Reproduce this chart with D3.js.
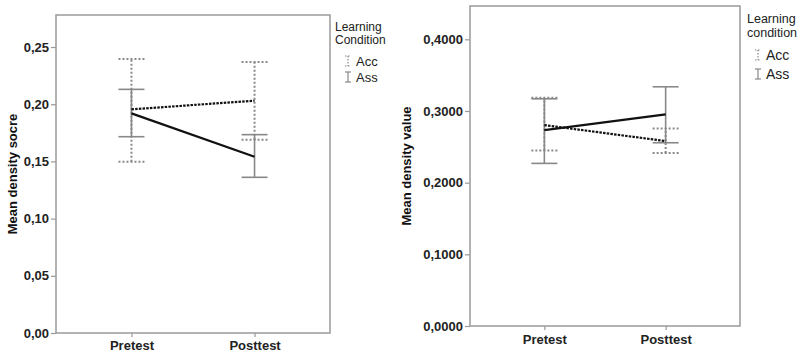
<!DOCTYPE html>
<html>
<head>
<meta charset="utf-8">
<script src="https://cdn.jsdelivr.net/npm/d3@7"></script>
<style>
  html, body { margin: 0; padding: 0; background: #fff; }
  svg { display: block; font-family: "Liberation Sans", Arial, sans-serif; }
</style>
</head>
<body>
<svg id="chart" width="801" height="355"></svg>
<script>
// Time points on the x axis
const phases = ["Pretest", "Posttest"];
const groups = ["Acc", "Ass"];

// Panel A: mean density score, with error bar bounds
const scoreAccMean = [0.1955, 0.2031];
const scoreAccLow  = [0.1497, 0.1690];
const scoreAccHigh = [0.2395, 0.2369];
const scoreAssMean = [0.1920, 0.1541];
const scoreAssLow  = [0.1716, 0.1361];
const scoreAssHigh = [0.2130, 0.1734];
const scoreTicks = [0, 0.05, 0.10, 0.15, 0.20, 0.25];

// Panel B: mean density value, with error bar bounds
const valueAccMean = [0.2803, 0.2580];
const valueAccLow  = [0.2450, 0.2413];
const valueAccHigh = [0.3184, 0.2757];
const valueAssMean = [0.2734, 0.2953];
const valueAssLow  = [0.2269, 0.2557];
const valueAssHigh = [0.3170, 0.3338];
const valueTicks = [0, 0.1, 0.2, 0.3, 0.4];

const svg = d3.select("#chart");

function series(mean, low, high) {
  return phases.map((p, i) => ({ phase: p, mean: mean[i], low: low[i], high: high[i] }));
}

function panel(cfg) {
  const g = svg.append("g");
  const x = d3.scalePoint().domain(phases).range([cfg.left, cfg.right]).padding(0.613);
  const y = d3.scaleLinear().domain([0, cfg.yMax]).range([cfg.bottom, cfg.top]);
  const fmt = v => d3.format(cfg.fmt)(v).replace(".", ",");

  // y axis ticks and labels
  const yAxis = d3.axisLeft(y).tickValues(cfg.ticks).tickFormat(fmt).tickSize(5).tickPadding(2);
  const ya = g.append("g").attr("transform", `translate(${cfg.left},0)`).call(yAxis);
  ya.select(".domain").remove();
  ya.selectAll(".tick line").attr("stroke", "#999").attr("stroke-width", 1.2);
  ya.selectAll(".tick text").attr("fill", "#222").style("font-size", "13px")
    .style("font-family", "'Liberation Sans', Arial, sans-serif").style("font-weight", "bold");

  // x axis ticks and labels
  const xAxis = d3.axisBottom(x).tickSize(4).tickPadding(cfg.xPad);
  const xa = g.append("g").attr("transform", `translate(0,${cfg.bottom})`).call(xAxis);
  xa.select(".domain").remove();
  xa.selectAll(".tick line").attr("stroke", "#999").attr("stroke-width", 1.2);
  xa.selectAll(".tick text").attr("fill", "#222").style("font-size", "13px")
    .style("font-family", "'Liberation Sans', Arial, sans-serif").style("font-weight", "bold");

  // plot frame
  g.append("rect")
    .attr("x", cfg.left).attr("y", cfg.top)
    .attr("width", cfg.right - cfg.left).attr("height", cfg.bottom - cfg.top)
    .attr("fill", "none").attr("stroke", "#9a9a9a").attr("stroke-width", 1.5);

  // y axis title
  g.append("text")
    .attr("transform", `translate(${cfg.titleX},${(cfg.top + cfg.bottom) / 2 + cfg.titleDy}) rotate(-90)`)
    .attr("text-anchor", "middle")
    .attr("fill", "#111")
    .style("font-size", "13px").style("font-weight", "bold")
    .text(cfg.yTitle);

  const cap = 13;
  const line = d3.line().x(d => x(d.phase)).y(d => y(d.mean));

  const drawBars = (data, dashed) => {
    const eb = g.append("g").attr("stroke", dashed ? "#8a8a8a" : "#888")
      .attr("stroke-width", dashed ? 2 : 1.6)
      .attr("stroke-dasharray", dashed ? "2,2" : null)
      .attr("fill", "none");
    data.forEach(d => {
      eb.append("line").attr("x1", x(d.phase)).attr("x2", x(d.phase))
        .attr("y1", y(d.low)).attr("y2", y(d.high));
      eb.append("line").attr("x1", x(d.phase) - cap).attr("x2", x(d.phase) + cap)
        .attr("y1", y(d.low)).attr("y2", y(d.low));
      eb.append("line").attr("x1", x(d.phase) - cap).attr("x2", x(d.phase) + cap)
        .attr("y1", y(d.high)).attr("y2", y(d.high));
    });
  };

  drawBars(cfg.acc, true);
  drawBars(cfg.ass, false);

  // mean lines
  g.append("path").datum(cfg.acc).attr("d", line)
    .attr("fill", "none").attr("stroke", "#111").attr("stroke-width", 2.2)
    .attr("stroke-dasharray", "2.5,1.2");
  g.append("path").datum(cfg.ass).attr("d", line)
    .attr("fill", "none").attr("stroke", "#111").attr("stroke-width", 2.2);

  // legend
  const lg = g.append("g").attr("transform", `translate(${cfg.legX},${cfg.legY})`);
  lg.append("text").attr("x", 0).attr("y", 0).attr("fill", "#222")
    .style("font-size", cfg.legTitleSize).text("Learning");
  lg.append("text").attr("x", 0).attr("y", cfg.legLine).attr("fill", "#222")
    .style("font-size", cfg.legTitleSize).text(cfg.legWord);
  groups.forEach((name, i) => {
    const cy = cfg.legItem0 + i * cfg.legItemStep;
    const ix = cfg.legIconX;
    const ic = lg.append("g").attr("stroke", "#888").attr("stroke-width", 1.2)
      .attr("stroke-dasharray", i === 0 ? "1.5,1.5" : null);
    ic.append("line").attr("x1", ix).attr("x2", ix).attr("y1", cy - 5).attr("y2", cy + 5);
    ic.append("line").attr("x1", ix - 3).attr("x2", ix + 3).attr("y1", cy - 5).attr("y2", cy - 5);
    ic.append("line").attr("x1", ix - 3).attr("x2", ix + 3).attr("y1", cy + 5).attr("y2", cy + 5);
    lg.append("text").attr("x", ix + 8).attr("y", cy).attr("dy", "0.36em")
      .attr("fill", "#222").style("font-size", cfg.legItemSize).text(name);
  });
}

panel({
  left: 56, right: 330, top: 15, bottom: 333,
  yMax: 0.278, ticks: scoreTicks, fmt: ".2f",
  xPad: 4, yTitle: "Mean density socre", titleX: 17, titleDy: 0,
  acc: series(scoreAccMean, scoreAccLow, scoreAccHigh),
  ass: series(scoreAssMean, scoreAssLow, scoreAssHigh),
  legX: 335, legY: 31, legLine: 13, legWord: "Condition",
  legTitleSize: "12px", legItemSize: "13px",
  legIconX: 13, legItem0: 30, legItemStep: 16
});

panel({
  left: 470, right: 740, top: 6, bottom: 326,
  yMax: 0.4465, ticks: valueTicks, fmt: ".4f",
  xPad: 5, yTitle: "Mean density value", titleX: 411, titleDy: 0,
  acc: series(valueAccMean, valueAccLow, valueAccHigh),
  ass: series(valueAssMean, valueAssLow, valueAssHigh),
  legX: 747, legY: 23, legLine: 14, legWord: "condition",
  legTitleSize: "12.5px", legItemSize: "14px",
  legIconX: 11, legItem0: 32, legItemStep: 19
});
</script>
</body>
</html>
